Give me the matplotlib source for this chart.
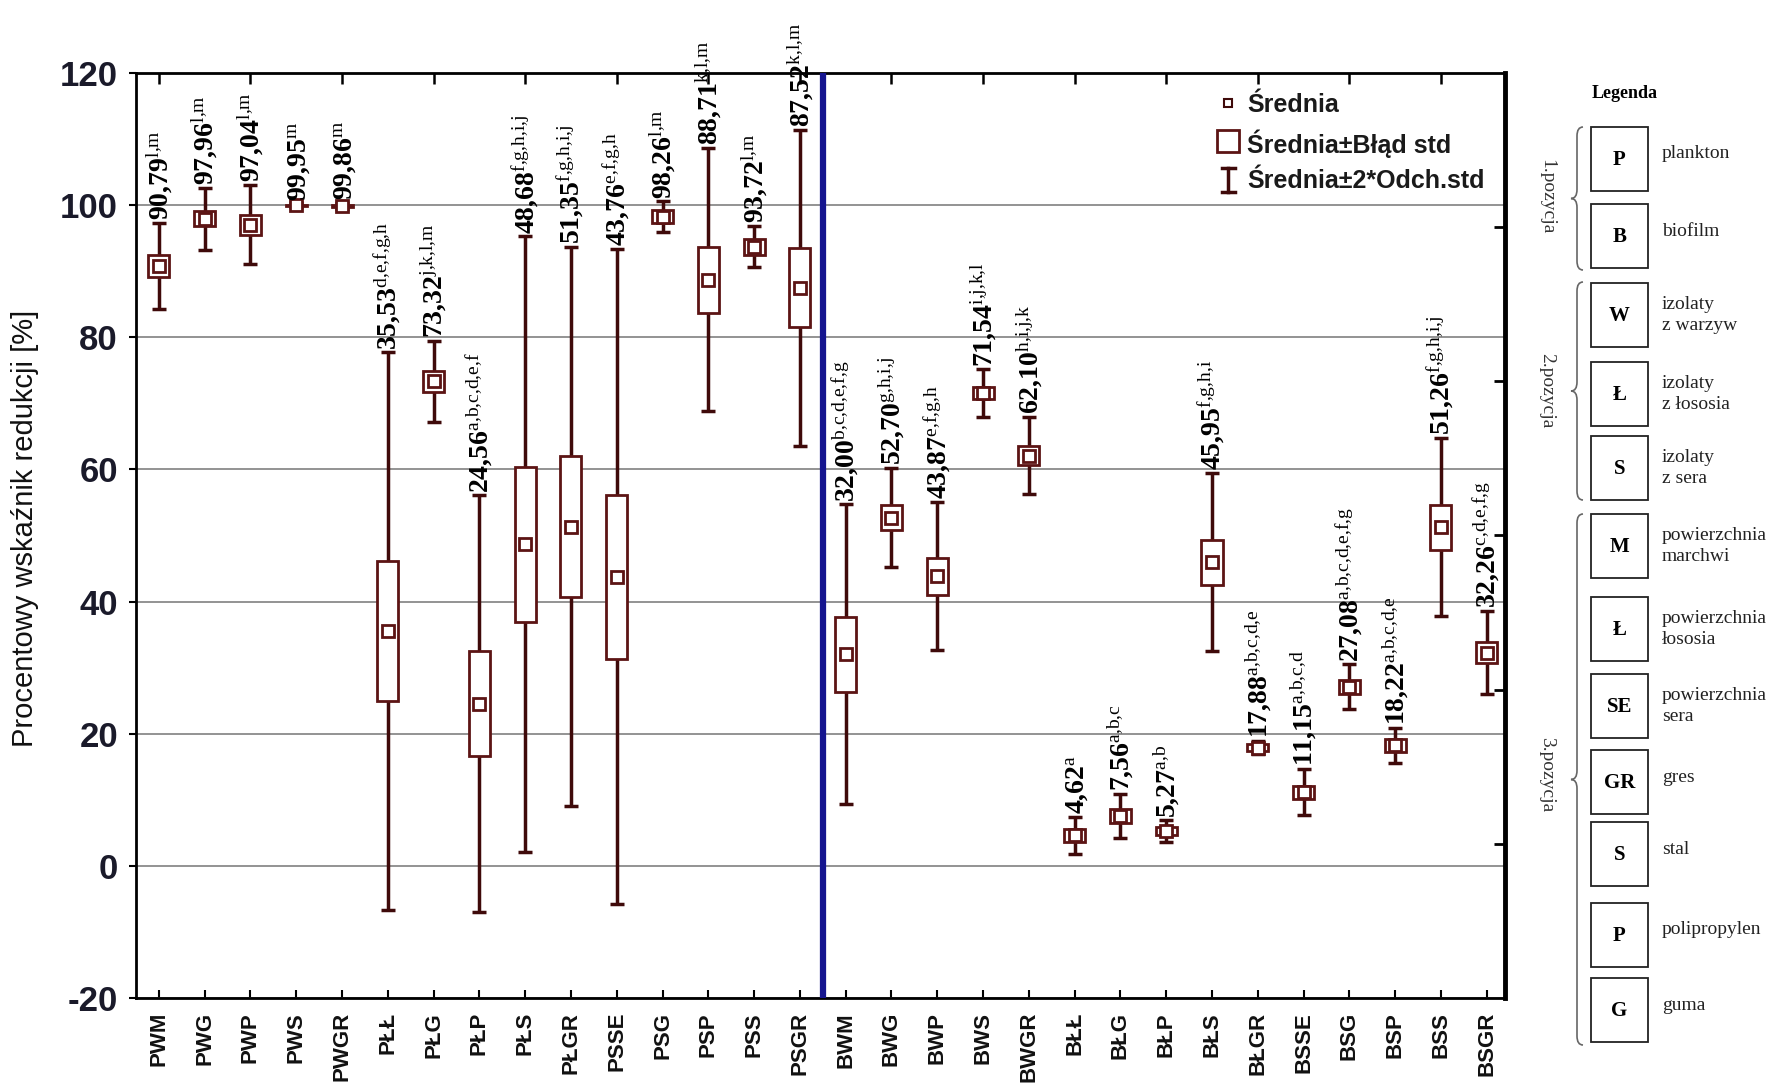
import matplotlib
matplotlib.use('Agg')
import matplotlib.pyplot as plt
import matplotlib.transforms as mtransforms
from matplotlib.path import Path
from matplotlib.patches import PathPatch, Rectangle
import numpy as np

plt.rcParams['font.family'] = ['Liberation Sans', 'DejaVu Sans']
plt.rcParams['axes.unicode_minus'] = False
plt.rcParams['mathtext.fontset'] = 'custom'
plt.rcParams['mathtext.rm'] = 'Liberation Serif'
plt.rcParams['mathtext.bf'] = 'Liberation Serif:bold'
plt.rcParams['mathtext.it'] = 'Liberation Serif:italic'

# --- dane ---
categories = ['PWM', 'PWG', 'PWP', 'PWS', 'PWGR', 'PŁŁ', 'PŁG', 'PŁP', 'PŁS', 'PŁGR',
              'PSSE', 'PSG', 'PSP', 'PSS', 'PSGR', 'BWM', 'BWG', 'BWP', 'BWS', 'BWGR',
              'BŁŁ', 'BŁG', 'BŁP', 'BŁS', 'BŁGR', 'BSSE', 'BSG', 'BSP', 'BSS', 'BSGR']
means = np.array([90.79, 97.96, 97.04, 99.95, 99.86, 35.53, 73.32, 24.56, 48.68, 51.35,
                  43.76, 98.26, 88.71, 93.72, 87.52, 32.00, 52.70, 43.87, 71.54, 62.10,
                  4.62, 7.56, 5.27, 45.95, 17.88, 11.15, 27.08, 18.22, 51.26, 32.26])
std_err = np.array([1.7, 1.1, 1.5, 0.1, 0.15, 10.6, 1.55, 8.0, 11.7, 10.7,
                    12.4, 1.0, 5.0, 1.2, 6.0, 5.7, 1.9, 2.8, 0.95, 1.45,
                    1.0, 1.1, 0.6, 3.4, 0.5, 1.0, 1.0, 1.0, 3.4, 1.6])
two_sd = np.array([6.5, 4.7, 6.0, 0.3, 0.5, 42.2, 6.1, 31.5, 46.6, 42.3,
                   49.6, 2.3, 19.9, 3.1, 23.9, 22.7, 7.5, 11.2, 3.6, 5.8,
                   2.8, 3.3, 1.6, 13.5, 1.0, 3.5, 3.4, 2.7, 13.5, 6.3])
letters = ['l,m', 'l,m', 'l,m', 'm', 'm', 'd,e,f,g,h', 'j,k,l,m', 'a,b,c,d,e,f',
           'f,g,h,i,j', 'f,g,h,i,j', 'e,f,g,h', 'l,m', 'k,l,m', 'l,m', 'k,l,m',
           'b,c,d,e,f,g', 'g,h,i,j', 'e,f,g,h', 'i,j,k,l', 'h,i,j,k', 'a', 'a,b,c',
           'a,b', 'f,g,h,i', 'a,b,c,d,e', 'a,b,c,d', 'a,b,c,d,e,f,g', 'a,b,c,d,e',
           'f,g,h,i,j', 'c,d,e,f,g']

legend_codes = ['P', 'B', 'W', 'Ł', 'S', 'M', 'Ł', 'SE', 'GR', 'S', 'P', 'G']
legend_desc = ['plankton', 'biofilm', 'izolaty\nz warzyw', 'izolaty\nz łososia',
               'izolaty\nz sera', 'powierzchnia\nmarchwi', 'powierzchnia\nłososia',
               'powierzchnia\nsera', 'gres', 'stal', 'polipropylen', 'guma']
group_names = ['1.pozycja', '2.pozycja', '3.pozycja']

W, H = 1772, 1091
fig = plt.figure(figsize=(W / 100, H / 100), dpi=100)
ax = fig.add_axes([136 / W, 93 / H, 1369 / W, 925 / H])

x = np.arange(len(categories))
dark = '#3f0a0a'
box_ec = '#5c1414'

# wąsy (średnia +- 2*odch.std)
ax.errorbar(x, means, yerr=two_sd, fmt='none', ecolor=dark, elinewidth=2.5,
            capsize=5, capthick=2.5, zorder=3)
# pudełka (średnia +- błąd std)
ax.bar(x, 2 * std_err, bottom=means - std_err, width=0.46, color='white',
       edgecolor=box_ec, linewidth=2, zorder=4)
# średnia
ax.plot(x, means, 's', ms=8, mfc='white', mec=box_ec, mew=2, zorder=5, ls='none')

# etykiety wartości
lab_tr = mtransforms.offset_copy(ax.transData, fig=fig, x=6.8, y=2, units='points')
for xi, m, s, lab in zip(x, means, two_sd, letters):
    val = f'{m:.2f}'.replace('.', '{,}')
    sup = lab.replace(',', '{,}')
    ax.text(xi, m + s, rf'$\mathbf{{{val}}}^{{\mathrm{{{sup}}}}}$', rotation=90,
            rotation_mode='anchor', ha='left', va='baseline', fontsize=20,
            transform=lab_tr, clip_on=False, zorder=7)

# linia podziału plankton / biofilm
ax.axvline(14.5, color='#15158f', lw=4.5, zorder=6)

ax.set_xlim(-0.5, 29.4)
ax.set_ylim(-20, 120)
ax.set_yticks(np.arange(-20, 121, 20))
ax.set_xticks(x)
ax.set_xticklabels(categories, rotation=90, fontsize=16, fontweight='bold', color='#111111')
for lbl in ax.get_yticklabels():
    lbl.set_fontweight('bold')
ax.tick_params(axis='y', direction='out', length=5, width=1.5, pad=8, labelsize=25,
               labelcolor='#1a1a2a')
ax.tick_params(axis='x', direction='in', length=6, width=1.5, pad=10)
ax.yaxis.grid(True, color='#8a8a8a', lw=1.3)
ax.set_axisbelow(True)
for sp in ax.spines.values():
    sp.set_linewidth(2)

top = ax.secondary_xaxis('top')
top.set_xticks(x[::2])
top.tick_params(direction='in', length=8, width=1.8, labeltop=False)

right = ax.twinx()
right.set_ylim(0, 6)
right.set_yticks(range(1, 6))
right.tick_params(direction='in', length=8, width=2, labelright=False)
for name, sp in right.spines.items():
    sp.set_visible(name == 'right')
right.spines['right'].set_linewidth(3.5)

# legenda w obszarze wykresu
tr = ax.transAxes
rows = [0.965, 0.924, 0.883]
ax.plot([0.798], [rows[0] + 0.003], 's', ms=6, mfc='white', mec=dark, mew=1.5,
        transform=tr, clip_on=False)
ax.plot([0.798], [rows[1] + 0.002], 's', ms=16, mfc='white', mec=box_ec, mew=2,
        transform=tr, clip_on=False)
ax.plot([0.798, 0.798], [rows[2] - 0.012, rows[2] + 0.014], color=dark, lw=2.5, transform=tr)
ax.plot([0.793, 0.803], [rows[2] + 0.014] * 2, color=dark, lw=2.5, transform=tr)
ax.plot([0.793, 0.803], [rows[2] - 0.012] * 2, color=dark, lw=2.5, transform=tr)
for yy, txt in zip(rows, ['Średnia', 'Średnia±Błąd std', 'Średnia±2*Odch.std']):
    ax.text(0.8115, yy, txt, transform=tr, fontsize=18, fontweight='bold',
            va='center', ha='left', color='#1a1a1a', zorder=8)

fig.text(25 / W, 1 - 528 / H, 'Procentowy wskaźnik redukcji [%]', rotation=90,
         fontsize=21, ha='center', va='center', color='#111111')

# legenda po prawej stronie
ov = fig.add_axes([0, 0, 1, 1])
ov.set_xlim(0, W)
ov.set_ylim(H, 0)
ov.axis('off')
ov.patch.set_visible(False)

box_y = [159, 236, 315, 394, 468, 546, 629, 706, 782, 854, 935, 1010]
ov.text(1625, 94, 'Legenda', family='Liberation Serif', fontweight='bold',
        fontsize=13, ha='center', va='center')
for yc, code, desc in zip(box_y, legend_codes, legend_desc):
    ov.add_patch(Rectangle((1591, yc - 32), 57, 64, fill=False, ec='#222222', lw=1.3))
    ov.text(1619.5, yc + 1, code, family='Liberation Serif', fontweight='bold',
            fontsize=15, ha='center', va='center')
    off = 0 if '\n' in desc else -5
    ov.text(1662, yc + off, desc, family='Liberation Serif', fontsize=14,
            ha='left', va='center', linespacing=1.25, color='#222222')


def brace(y0, y1, xr=1583, xm=1577, xl=1571, r=9):
    ym = (y0 + y1) / 2
    verts = [(xr, y0), (xm, y0), (xm, y0 + r), (xm, ym - r), (xm, ym), (xl, ym),
             (xm, ym), (xm, ym + r), (xm, y1 - r), (xm, y1), (xr, y1)]
    codes = [Path.MOVETO, Path.CURVE3, Path.CURVE3, Path.LINETO, Path.CURVE3, Path.CURVE3,
             Path.CURVE3, Path.CURVE3, Path.LINETO, Path.CURVE3, Path.CURVE3]
    ov.add_patch(PathPatch(Path(verts, codes), fill=False, ec='#666666', lw=1.2))


for (y0, y1), name, ym in zip([(127, 270), (282, 500), (514, 1045)], group_names,
                              [197, 391, 775]):
    brace(y0, y1)
    ov.text(1547, ym, name, family='Liberation Serif', fontsize=14, rotation=-90,
            ha='center', va='center', color='#333333')

fig.savefig('out.png', dpi=100, facecolor='white')
